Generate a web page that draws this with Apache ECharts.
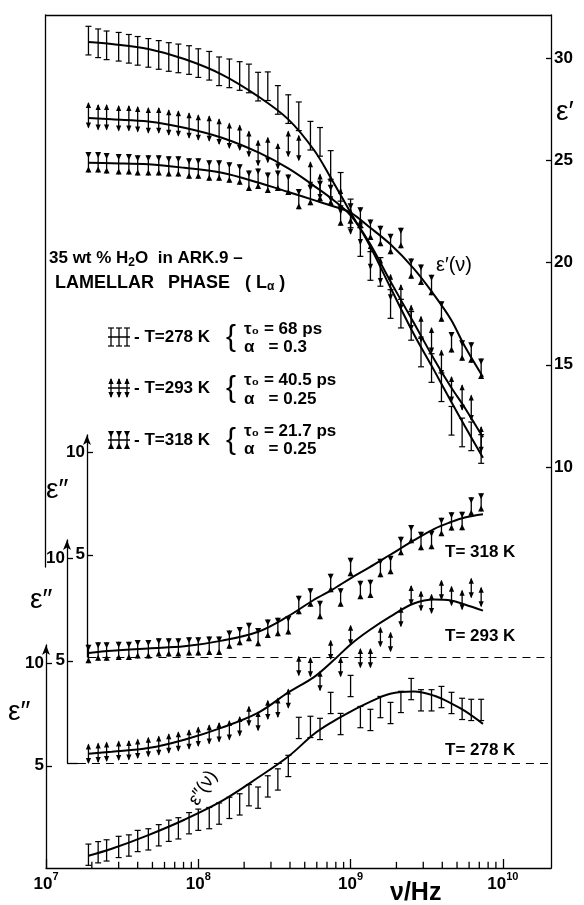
<!DOCTYPE html>
<html>
<head>
<meta charset="utf-8">
<script src="https://cdn.jsdelivr.net/npm/echarts@6/dist/echarts.min.js"></script>
<style>
  html, body { margin: 0; background: #fff; }
  #chart { width: 584px; height: 905px; }
</style>
</head>
<body>
<div id="chart"></div>
<script>
// measured frequencies (Hz), same grid for every temperature
const nu = [1.9e7, 2.2e7, 2.5e7, 3.0e7, 3.5e7, 4.0e7, 4.7e7, 5.5e7, 6.4e7, 7.4e7,
  8.7e7, 1.0e8, 1.18e8, 1.37e8, 1.6e8, 1.87e8, 2.15e8, 2.47e8, 2.86e8, 3.33e8,
  3.9e8, 4.57e8, 5.45e8, 6.3e8, 7.4e8, 8.6e8, 1.0e9, 1.16e9, 1.35e9, 1.57e9,
  1.83e9, 2.14e9, 2.5e9, 2.9e9, 3.4e9, 3.95e9, 4.6e9, 5.4e9, 6.2e9, 7.2e9];

// eps' (right axis)
const eps1_278 = [30.85, 30.72, 30.62, 30.55, 30.45, 30.35, 30.25, 30.15, 30.05, 29.98,
  29.9, 29.75, 29.62, 29.35, 29.25, 29.12, 29.0, 28.6, 28.62, 27.95,
  27.5, 27.15, 26.2, 25.9, 24.77, 23.7, 22.4, 21.0, 19.83, 19.54,
  17.97, 17.5, 16.9, 15.6, 14.84, 13.9, 12.26, 11.69, 11.5, 10.88];
const eps1_293 = [27.2, 27.1, 27.1, 27.05, 27.05, 27.0, 26.95, 26.95, 26.85, 26.8,
  26.7, 26.6, 26.55, 26.4, 26.2, 26.1, 25.8, 25.35, 25.5, 25.2,
  25.8, 25.6, 24.3, 23.7, 23.6, 23.0, 22.0, 21.5, 20.3, 19.6,
  18.8, 18.3, 17.3, 16.75, 16.2, 15.1, 13.8, 13.4, 12.9, 11.35];
const eps1_318 = [24.9, 24.9, 24.85, 24.8, 24.8, 24.75, 24.75, 24.75, 24.7, 24.7,
  24.6, 24.6, 24.5, 24.5, 24.4, 24.3, 24.0, 24.1, 23.9, 24.0,
  23.8, 23.1, 23.3, 23.5, 23.3, 22.3, 22.4, 22.2, 21.6, 21.3,
  20.9, 21.2, 19.7, 19.4, 18.9, 17.6, 16.1, 15.7, 15.6, 14.8];

// eps'' (each on its own shifted left axis)
const eps2_278 = [0.65, 0.77, 0.86, 1.03, 1.1, 1.32, 1.4, 1.6, 1.82, 1.94,
  2.19, 2.36, 2.44, 2.66, 2.94, 3.11, 3.56, 3.44, 3.99, 4.33,
  4.99, 6.85, 6.9, 6.8, 8.07, 7.04, 8.9, 7.38, 7.24, 7.87,
  7.58, 8.12, 8.75, 8.2, 8.2, 8.36, 8.07, 7.78, 7.73, 7.73];
const eps2_293 = [0.45, 0.5, 0.55, 0.6, 0.62, 0.7, 0.78, 0.85, 0.95, 1.05,
  1.15, 1.28, 1.4, 1.5, 1.6, 1.8, 2.3, 2.05, 2.6, 2.7,
  3.15, 4.74, 4.69, 4.01, 5.53, 4.69, 6.26, 5.13, 5.13, 6.16,
  5.92, 7.14, 8.21, 7.92, 7.78, 8.46, 8.17, 7.97, 8.56, 8.12];
const eps2_318 = [0.15, 0.27, 0.27, 0.3, 0.3, 0.38, 0.38, 0.47, 0.47, 0.47,
  0.52, 0.52, 0.55, 0.55, 0.85, 1.02, 1.22, 0.97, 1.38, 1.47,
  1.55, 2.54, 2.91, 2.3, 3.62, 2.91, 4.4, 3.28, 3.33, 4.35,
  4.5, 5.43, 6.01, 5.67, 5.72, 6.36, 6.63, 6.65, 7.36, 7.56];

// half length of the error bars
const err1_278 = 0.7, err1_293 = 0.6, err1_318 = 0.5;
const err2_278 = 0.52, err2_293 = 0.45, err2_318 = 0.45;

// fitted curves
const fitNu = [1.9e7, 2.7e7, 4.7e7, 8.1e7, 1.43e8, 2.5e8, 3.9e8, 5.75e8, 7.6e8, 1.0e9,
  1.32e9, 1.82e9, 2.6e9, 3.55e9, 4.57e9, 5.62e9, 7.4e9];
const fit1_278 = [30.78, 30.68, 30.44, 29.95, 29.19, 28.1, 27.0, 25.5, 24.0, 22.44, 20.9, 18.8, 16.5, 14.7, 13.2, 12.0, 10.45];
const fit1_293 = [27.07, 27.0, 26.9, 26.59, 26.1, 25.37, 24.6, 23.75, 23.09, 22.3, 21.0, 19.1, 17.05, 15.25, 13.9, 12.9, 11.45];
const fit1_318 = [24.88, 24.85, 24.8, 24.63, 24.39, 23.9, 23.45, 23.05, 22.76, 22.44, 21.75, 20.9, 19.7, 18.4, 17.2, 15.9, 14.4];
const fit2_278 = [0.6, 0.94, 1.61, 2.36, 3.28, 4.45, 5.45, 6.55, 7.15, 7.65, 8.1, 8.52, 8.63, 8.42, 8.05, 7.68, 7.05];
const fit2_293 = [0.45, 0.55, 0.73, 1.14, 1.73, 2.48, 3.45, 4.2, 4.97, 5.8, 6.48, 7.16, 7.8, 8.0, 7.95, 7.75, 7.45];
const fit2_318 = [0.2, 0.3, 0.42, 0.52, 0.8, 1.25, 2.0, 2.8, 3.3, 3.85, 4.37, 5.0, 5.7, 6.27, 6.6, 6.82, 6.98];

// axis ticks
const majorTicks = [1e7, 1e8, 1e9, 1e10];
const minorTicks = [2e7, 3e7, 4e7, 5e7, 6e7, 7e7, 8e7, 9e7,
  2e8, 3e8, 4e8, 5e8, 6e8, 7e8, 8e8, 9e8,
  2e9, 3e9, 4e9, 5e9, 6e9, 7e9, 8e9, 9e9];
const eps1Ticks = [10, 15, 20, 25, 30];
const eps2Ticks = [5, 10];

// layout (pixels)
const FONT = '"Liberation Sans", Arial, sans-serif';
const TOP = 15, BOT = 868, LEFT = 46, RIGHT = 551, K = 20.45; // px per unit
const H = BOT - TOP;
const X_MIN = 1e7, X_MAX = 2.07e10;

function range(zeroY) {
  const min = -(BOT - zeroY) / K;
  return { min: min, max: min + H / K };
}
const r1max = 30 + (58 - TOP) / K;
const r1 = { min: r1max - H / K, max: r1max };
const rC = range(868), rB = range(763), rA = range(657);

const black = '#000';

function ends(kind, x, y1, y2) {
  // y1 = top end, y2 = bottom end
  if (kind === 'cap') {
    return [
      { type: 'line', shape: { x1: x - 3, y1: y1, x2: x + 3, y2: y1 }, style: { stroke: black, lineWidth: 1.2 } },
      { type: 'line', shape: { x1: x - 3, y1: y2, x2: x + 3, y2: y2 }, style: { stroke: black, lineWidth: 1.2 } }
    ];
  }
  if (kind === 'arrow') {
    return [
      { type: 'polygon', shape: { points: [[x, y1 - 1], [x - 2.6, y1 + 5], [x + 2.6, y1 + 5]] }, style: { fill: black } },
      { type: 'polygon', shape: { points: [[x, y2 + 1], [x - 2.6, y2 - 5], [x + 2.6, y2 - 5]] }, style: { fill: black } }
    ];
  }
  return [
    { type: 'polygon', shape: { points: [[x - 3, y1], [x + 3, y1], [x, y1 + 6]] }, style: { fill: black } },
    { type: 'polygon', shape: { points: [[x - 3, y2], [x + 3, y2], [x, y2 - 6]] }, style: { fill: black } }
  ];
}

function barSeries(kind, vals, err, yIndex, extra) {
  return Object.assign({
    type: 'custom',
    xAxisIndex: 0,
    yAxisIndex: yIndex,
    data: nu.map((v, i) => [v, vals[i], err]),
    encode: { x: 0, y: 1 },
    renderItem: function (params, api) {
      const top = api.coord([api.value(0), api.value(1) + api.value(2)]);
      const bot = api.coord([api.value(0), api.value(1) - api.value(2)]);
      const x = top[0];
      const children = [
        { type: 'line', shape: { x1: x, y1: top[1], x2: x, y2: bot[1] }, style: { stroke: black, lineWidth: 1.3 } }
      ].concat(ends(kind, x, top[1], bot[1]));
      return { type: 'group', children: children };
    },
    silent: true
  }, extra || {});
}

function fitSeries(vals, yIndex, extra) {
  return Object.assign({
    type: 'line',
    xAxisIndex: 0,
    yAxisIndex: yIndex,
    data: fitNu.map((v, i) => [v, vals[i]]),
    smooth: 0.35,
    showSymbol: false,
    lineStyle: { color: black, width: 2 },
    silent: true
  }, extra || {});
}

function zeroLine(from, dashed) {
  return {
    silent: true, symbol: 'none', label: { show: false },
    lineStyle: { type: dashed ? [8, 6] : 'solid', color: black, width: dashed ? 1 : 1.3 },
    data: [[{ coord: [from[0], 0] }, { coord: [from[1], 0] }]]
  };
}

function glyph(kind, x0, yc) {
  const ch = [{ type: 'line', shape: { x1: x0, y1: yc, x2: x0 + 22, y2: yc }, style: { stroke: black, lineWidth: 1.5 } }];
  [x0 + 3, x0 + 11, x0 + 19].forEach(function (x) {
    ch.push({ type: 'line', shape: { x1: x, y1: yc - 9, x2: x, y2: yc + 9 }, style: { stroke: black, lineWidth: 1.3 } });
    ends(kind, x, yc - 9, yc + 9).forEach(function (e) { ch.push(e); });
  });
  return { type: 'group', children: ch };
}

function txt(text, x, y, size, extra) {
  return {
    type: 'text', x: x, y: y,
    style: Object.assign({
      text: text, fill: black, font: 'bold ' + size + 'px ' + FONT,
      textAlign: 'left', textVerticalAlign: 'middle'
    }, extra || {})
  };
}

const axisLineStyle = { color: black, width: 1.3 };
const lg = Math.log10;
const labelStyle = { fontSize: 17, fontWeight: 'bold', fontFamily: FONT, color: black };

const chart = echarts.init(document.getElementById('chart'));

const option = {
  animation: false,
  backgroundColor: '#fff',
  grid: [
    { left: LEFT, top: TOP, width: RIGHT - LEFT, height: H, show: false },
    { left: 87, top: 435, width: 20, height: 657 - 435, show: false },
    { left: 67, top: 540, width: 20, height: 763 - 540, show: false },
    { left: 46, top: 645, width: 20, height: 868 - 645, show: false },
    { left: 45, top: TOP, width: 20, height: 567 - TOP, show: false }
  ],
  xAxis: [
    {
      // data axis (log frequency) + bottom frame line
      type: 'log', logBase: 10, gridIndex: 0, min: X_MIN, max: X_MAX, position: 'bottom',
      axisLine: { show: true, onZero: false, lineStyle: axisLineStyle },
      axisTick: { show: false }, axisLabel: { show: false }, splitLine: { show: false }
    },
    {
      // major ticks with 10^n labels (decade exponents)
      type: 'value', gridIndex: 0, min: lg(X_MIN), max: lg(X_MAX), position: 'bottom',
      axisLine: { show: false, onZero: false },
      axisTick: { show: true, inside: true, length: 9, customValues: majorTicks.map(lg), lineStyle: axisLineStyle },
      axisLabel: {
        show: true, customValues: majorTicks.map(lg), margin: 3,
        formatter: function (v) { return '{b|10}{s|' + Math.round(v) + '}'; },
        rich: {
          b: { fontSize: 17, fontWeight: 'bold', fontFamily: FONT, color: black, lineHeight: 22, verticalAlign: 'bottom' },
          s: { fontSize: 11, fontWeight: 'bold', fontFamily: FONT, color: black, lineHeight: 12, verticalAlign: 'top' }
        }
      },
      splitLine: { show: false }
    },
    {
      type: 'log', logBase: 10, gridIndex: 0, min: X_MIN, max: X_MAX, position: 'top',
      axisLine: { show: true, onZero: false, lineStyle: axisLineStyle },
      axisTick: { show: false }, axisLabel: { show: false }, splitLine: { show: false }
    },
    { type: 'value', gridIndex: 1, show: false },
    { type: 'value', gridIndex: 2, show: false },
    { type: 'value', gridIndex: 3, show: false },
    { type: 'value', gridIndex: 4, show: false }
  ],
  yAxis: [
    {
      type: 'value', gridIndex: 0, position: 'right', min: r1.min, max: r1.max,
      axisLine: { show: true, onZero: false, lineStyle: axisLineStyle },
      axisTick: { show: true, inside: true, length: 5, customValues: eps1Ticks, lineStyle: axisLineStyle },
      axisLabel: Object.assign({ show: true, customValues: eps1Ticks, margin: 3 }, labelStyle),
      splitLine: { show: false }
    },
    { type: 'value', gridIndex: 0, show: false, min: rC.min, max: rC.max },
    { type: 'value', gridIndex: 0, show: false, min: rB.min, max: rB.max },
    { type: 'value', gridIndex: 0, show: false, min: rA.min, max: rA.max },
    {
      type: 'value', gridIndex: 1, position: 'left', min: 0, max: (657 - 435) / K,
      axisLine: { show: true, onZero: false, lineStyle: axisLineStyle, symbol: ['none', 'arrow'], symbolSize: [6, 10] },
      axisTick: { show: true, inside: true, length: 6, customValues: eps2Ticks, lineStyle: axisLineStyle },
      axisLabel: Object.assign({ show: true, customValues: eps2Ticks, margin: 2 }, labelStyle),
      splitLine: { show: false }
    },
    {
      type: 'value', gridIndex: 2, position: 'left', min: 0, max: (763 - 540) / K,
      axisLine: { show: true, onZero: false, lineStyle: axisLineStyle, symbol: ['none', 'arrow'], symbolSize: [6, 10] },
      axisTick: { show: true, inside: true, length: 6, customValues: eps2Ticks, lineStyle: axisLineStyle },
      axisLabel: Object.assign({ show: true, customValues: eps2Ticks, margin: 2 }, labelStyle),
      splitLine: { show: false }
    },
    {
      type: 'value', gridIndex: 3, position: 'left', min: 0, max: (868 - 645) / K,
      axisLine: { show: true, onZero: false, lineStyle: axisLineStyle, symbol: ['none', 'arrow'], symbolSize: [6, 10] },
      axisTick: { show: true, inside: true, length: 6, customValues: eps2Ticks, lineStyle: axisLineStyle },
      axisLabel: Object.assign({ show: true, customValues: eps2Ticks, margin: 2 }, labelStyle),
      splitLine: { show: false }
    },
    {
      type: 'value', gridIndex: 4, position: 'left',
      axisLine: { show: true, onZero: false, lineStyle: axisLineStyle },
      axisTick: { show: false }, axisLabel: { show: false }, splitLine: { show: false }
    }
  ],
  series: [
    // minor ticks of the frequency axis, placed through the log scale
    {
      type: 'custom', xAxisIndex: 0, yAxisIndex: 1, silent: true, clip: false, z: 10,
      data: minorTicks.map(v => [v, 0, 0.3]),
      encode: { x: 0, y: 1 },
      renderItem: function (params, api) {
        const c0 = api.coord([api.value(0), api.value(1)]);
        const c1 = api.coord([api.value(0), api.value(1) + api.value(2)]);
        return {
          type: 'group',
          children: [{ type: 'line', shape: { x1: c0[0], y1: c0[1], x2: c1[0], y2: c1[1] }, style: { stroke: black, lineWidth: 1.3 } }]
        };
      }
    },
    barSeries('cap', eps1_278, err1_278, 0),
    barSeries('arrow', eps1_293, err1_293, 0),
    barSeries('hourglass', eps1_318, err1_318, 0),
    barSeries('cap', eps2_278, err2_278, 1),
    barSeries('arrow', eps2_293, err2_293, 2, { markLine: zeroLine([1.375e7, 1.62e7], false) }),
    barSeries('hourglass', eps2_318, err2_318, 3),
    fitSeries(fit1_278, 0),
    fitSeries(fit1_293, 0),
    fitSeries(fit1_318, 0),
    fitSeries(fit2_278, 1),
    fitSeries(fit2_293, 2, { markLine: zeroLine([1.62e7, X_MAX], true) }),
    fitSeries(fit2_318, 3, { markLine: zeroLine([1.9e7, X_MAX], true) })
  ],
  graphic: [
    txt('\u03b5\u2032', 556, 112, 28, { font: '28px ' + FONT }),
    txt('\u03b5\u2032(\u03bd)', 436, 265, 20, { font: '20px ' + FONT }),
    txt('\u03b5\u2033', 46, 490, 28, { font: '28px ' + FONT }),
    txt('\u03b5\u2033', 30, 600, 28, { font: '28px ' + FONT }),
    txt('\u03b5\u2033', 8, 712, 28, { font: '28px ' + FONT }),
    txt('\u03bd/Hz', 390, 893, 25),
    txt('T= 318 K', 445, 552, 17),
    txt('T= 293 K', 445, 636, 17),
    txt('T= 278 K', 445, 750, 17),
    {
      type: 'text', x: 203, y: 788, rotation: Math.PI * 0.32,
      style: { text: '\u03b5\u2033(\u03bd)', fill: black, font: '19px ' + FONT, textAlign: 'center', textVerticalAlign: 'middle' }
    },
    {
      type: 'text', x: 49, y: 258,
      style: {
        text: '35 wt % H{sub|2}O  in ARK.9 \u2013', fill: black, font: 'bold 17px ' + FONT,
        textVerticalAlign: 'middle',
        rich: { sub: { fontSize: 12, fontWeight: 'bold', fontFamily: FONT, verticalAlign: 'bottom', padding: [9, 0, 0, 0] } }
      }
    },
    txt('LAMELLAR', 55, 283, 18),
    txt('PHASE', 168, 283, 18, { font: 'bold 18px ' + FONT }),
    {
      type: 'text', x: 245, y: 283,
      style: {
        text: '( L{sub|\u03b1} )', fill: black, font: 'bold 18px ' + FONT,
        textVerticalAlign: 'middle',
        rich: { sub: { fontSize: 12, fontWeight: 'bold', fontFamily: FONT, verticalAlign: 'bottom', padding: [8, 0, 0, 0] } }
      }
    },
    glyph('cap', 108, 337),
    txt('- T=278 K', 134, 337, 17),
    txt('{', 226, 338, 30, { font: '300 30px ' + FONT }),
    txt('\u03c4\u2080 = 68 ps', 244, 329, 17),
    txt('\u03b1   = 0.3', 244, 347, 17),
    glyph('arrow', 108, 388),
    txt('- T=293 K', 134, 388, 17),
    txt('{', 226, 389, 30, { font: '300 30px ' + FONT }),
    txt('\u03c4\u2080 = 40.5 ps', 244, 380, 17),
    txt('\u03b1   = 0.25', 244, 399, 17),
    glyph('hourglass', 108, 440),
    txt('- T=318 K', 134, 440, 17),
    txt('{', 226, 441, 30, { font: '300 30px ' + FONT }),
    txt('\u03c4\u2080 = 21.7 ps', 244, 431, 17),
    txt('\u03b1   = 0.25', 244, 449, 17)
  ]
};

chart.setOption(option);
</script>
</body>
</html>
